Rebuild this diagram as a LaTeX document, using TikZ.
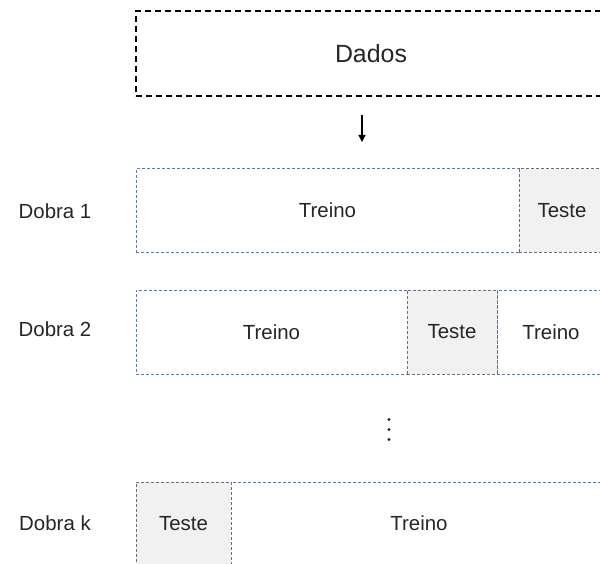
\documentclass[tikz,border=0pt]{standalone}
\usepackage{fontspec}
\setmainfont{Liberation Sans}
\usetikzlibrary{arrows.meta}
\definecolor{bluedash}{HTML}{4A7BD0}
\definecolor{graydash}{HTML}{6E6E6E}
\definecolor{testfill}{HTML}{F1F1F1}
\begin{document}
\begin{tikzpicture}[x=1bp,y=-1bp,
  every node/.style={inner sep=0pt, font=\fontsize{20.5}{22}\selectfont, text=black!85},
  databox/.style={draw=black, line width=1.4bp, dash pattern=on 6bp off 4bp, minimum width=470bp, minimum height=85bp, font=\fontsize{25}{27}\selectfont},
  trainbox/.style={draw=bluedash, line width=1bp, dash pattern=on 3bp off 2bp},
  testbox/.style={draw=graydash, fill=testfill, line width=1bp, dash pattern=on 3bp off 2bp},
  foldlabel/.style={anchor=center},
  dot/.style={circle, fill=black!85, minimum size=3.2bp}
]
\useasboundingbox (0,0) rectangle (600,564);
\clip (0,0) rectangle (600,564);
\fill[white] (0,0) rectangle (600,564);

\node[databox] (dados) at (371,53.5) {Dados};
\coordinate (a1) at (362,115);
\coordinate (a2) at (362,142);
\draw[line width=1.2bp, -{Triangle[length=7bp,width=7bp]}] (a1) -- (a2);

% Row 1
\node[trainbox, minimum width=383bp, minimum height=83bp] (tr1) at (327.5,210.5) {Treino};
\node[testbox, minimum width=86bp, minimum height=83bp] (te1) at (562,210.5) {Teste};
\node[foldlabel] (d1) at (55,211) {Dobra 1};

% Row 2
\node[trainbox, minimum width=271bp, minimum height=84bp] (tr2a) at (271.5,332) {Treino};
\node[trainbox, minimum width=108bp, minimum height=84bp] (tr2b) at (551,332) {Treino};
\node[testbox, minimum width=90bp, minimum height=84bp] (te2) at (452,332) {Teste};
\node[foldlabel] (d2) at (55,329) {Dobra 2};

% dots
\node[dot] (dot1) at (389,419.5) {};
\node[dot] (dot2) at (389,429.5) {};
\node[dot] (dot3) at (389,439.5) {};

% Row k
\node[trainbox, minimum width=376bp, minimum height=83bp] (trk) at (419,523.5) {Treino};
\node[testbox, minimum width=95bp, minimum height=83bp] (tek) at (183.5,523.5) {Teste};
\node[foldlabel] (dk) at (55,523) {Dobra k};
\end{tikzpicture}
\end{document}
